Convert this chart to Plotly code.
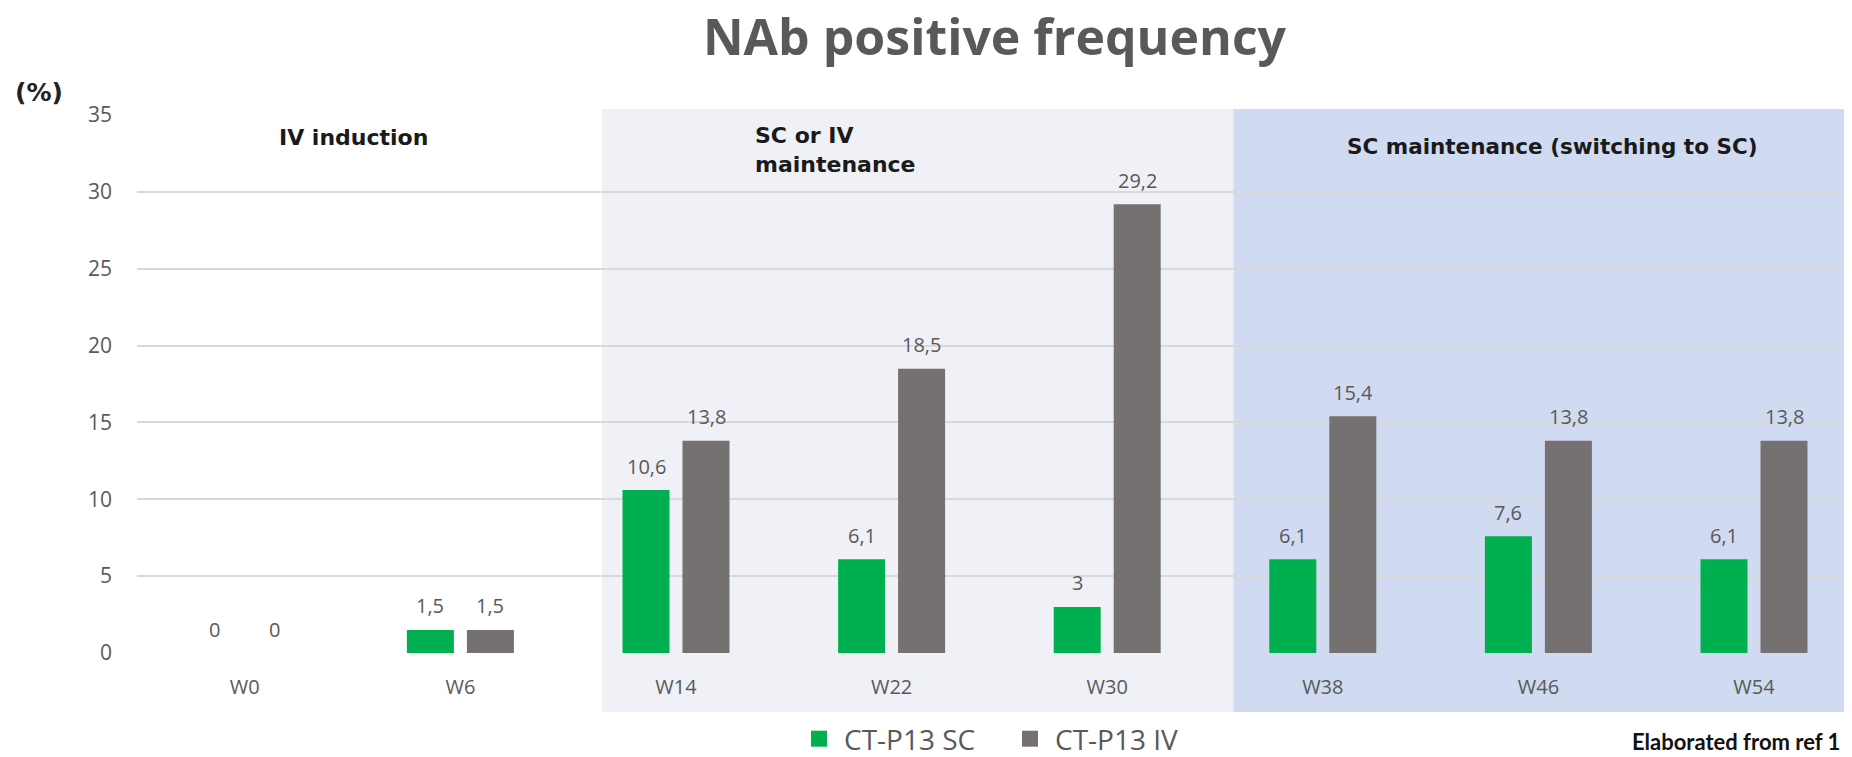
import plotly.graph_objects as go

weeks = ["W0", "W6", "W14", "W22", "W30", "W38", "W46", "W54"]
sc_values = [0, 1.5, 10.6, 6.1, 3, 6.1, 7.6, 6.1]
iv_values = [0, 1.5, 13.8, 18.5, 29.2, 15.4, 13.8, 13.8]
series_names = ["CT-P13 SC", "CT-P13 IV"]
y_ticks = [0, 5, 10, 15, 20, 25, 30, 35]

GREEN = "#00b050"
GRAY = "#767171"
TXT = "#595959"

# page body has an 8px margin; work in reference-pixel coords and offset
OFF = 8
W, H = 1852 - OFF, 757 - OFF
L = 137 - OFF
T = 115 - OFF
PLOT_BOTTOM = 653 - OFF
B = H - PLOT_BOTTOM
PW, PH = W - L, H - T - B


def fmt(v):
    return ("%g" % v).replace(".", ",")


def px_x(p):  # reference px -> paper x
    return (p - OFF - L) / PW


def px_y(p):  # reference px -> paper y
    return (PLOT_BOTTOM - (p - OFF)) / PH


fig = go.Figure()
fig.add_trace(go.Bar(x=weeks, y=sc_values, name=series_names[0],
                     marker=dict(color=GREEN, line=dict(width=0)), showlegend=False))
fig.add_trace(go.Bar(x=weeks, y=iv_values, name=series_names[1],
                     marker=dict(color=GRAY, line=dict(width=0)), showlegend=False))
for nm, col in zip(series_names, [GREEN, GRAY]):
    fig.add_trace(go.Scatter(x=[None], y=[None], mode="markers", name=nm,
                             marker=dict(symbol="square", size=16, color=col)))

annotations = []
for w, a, b in zip(weeks, sc_values, iv_values):
    for val, xs in ((a, -30), (b, 30)):
        annotations.append(dict(x=w, y=val, xref="x", yref="y", text=fmt(val),
                                showarrow=False, xshift=xs, yshift=24,
                                font=dict(family="Open Sans", size=20, color=TXT)))

hdr_font = dict(family="DejaVu Sans", size=22, color="#1a1a1a")
annotations += [
    dict(x=0.506, y=px_y(137), xref="x", yref="paper", text="<b>IV induction</b>",
         showarrow=False, font=hdr_font, xanchor="center", yanchor="middle"),
    dict(x=2.358, y=px_y(150), xref="x", yref="paper", text="<b>SC or IV<br>maintenance</b>",
         showarrow=False, font=hdr_font, xanchor="left", yanchor="middle", align="left"),
    dict(x=6.065, y=px_y(146), xref="x", yref="paper", text="<b>SC maintenance (switching to SC)</b>",
         showarrow=False, font=dict(hdr_font, size=21.5), xanchor="center", yanchor="middle"),
    dict(x=px_x(39), y=px_y(93), xref="paper", yref="paper", text="<b>(%)</b>", showarrow=False,
         xanchor="center", yanchor="middle",
         font=dict(family="DejaVu Sans", size=25, color="#222222")),
    dict(x=px_x(1630), y=px_y(757), xref="paper", yref="paper", text="<b>Elaborated from ref 1</b>",
         showarrow=False, xanchor="left", yanchor="bottom",
         font=dict(family="Lato", size=22, color="#111111")),
]

shapes = [
    dict(type="rect", xref="x", yref="paper", x0=1.657, x1=4.585, y0=px_y(712), y1=px_y(109),
         fillcolor="#eff1f6", line=dict(width=0), layer="below"),
    dict(type="rect", xref="x", yref="paper", x0=4.585, x1=8.5, y0=px_y(712), y1=px_y(109),
         fillcolor="#d0daf0", line=dict(width=0), layer="below"),
]

x_max = -0.5 + PW / 215.6

fig.update_layout(
    width=W, height=H,
    margin=dict(l=L, r=0, t=T, b=B, autoexpand=False),
    paper_bgcolor="white", plot_bgcolor="rgba(0,0,0,0)",
    barmode="group", bargap=0.4434, bargroupgap=0.2167,
    title=dict(text="<b>NAb positive frequency</b>", x=0.5, xref="paper",
               y=1 - 29 / H, yanchor="middle", xanchor="center",
               font=dict(family="Open Sans", size=50, color=TXT)),
    font=dict(family="Open Sans", color=TXT),
    xaxis=dict(range=[-0.5, x_max], showgrid=False, zeroline=False, showline=False,
               ticks="", tickfont=dict(size=20, color=TXT), ticklabelstandoff=20,
               fixedrange=True),
    yaxis=dict(range=[0, 35], tickvals=y_ticks, showgrid=True, gridcolor="#d9d9d9",
               gridwidth=1.5, zeroline=False, showline=False, ticks="",
               tickfont=dict(size=21, color=TXT), ticklabelstandoff=24, fixedrange=True),
    legend=dict(orientation="h", x=px_x(794), xanchor="left", y=px_y(739), yanchor="middle",
                font=dict(family="Open Sans", size=28, color=TXT),
                bgcolor="rgba(0,0,0,0)", itemwidth=40,
                entrywidth=156, entrywidthmode="pixels"),
    annotations=annotations,
    shapes=shapes,
    showlegend=True,
)

fig.write_html("out.html")
